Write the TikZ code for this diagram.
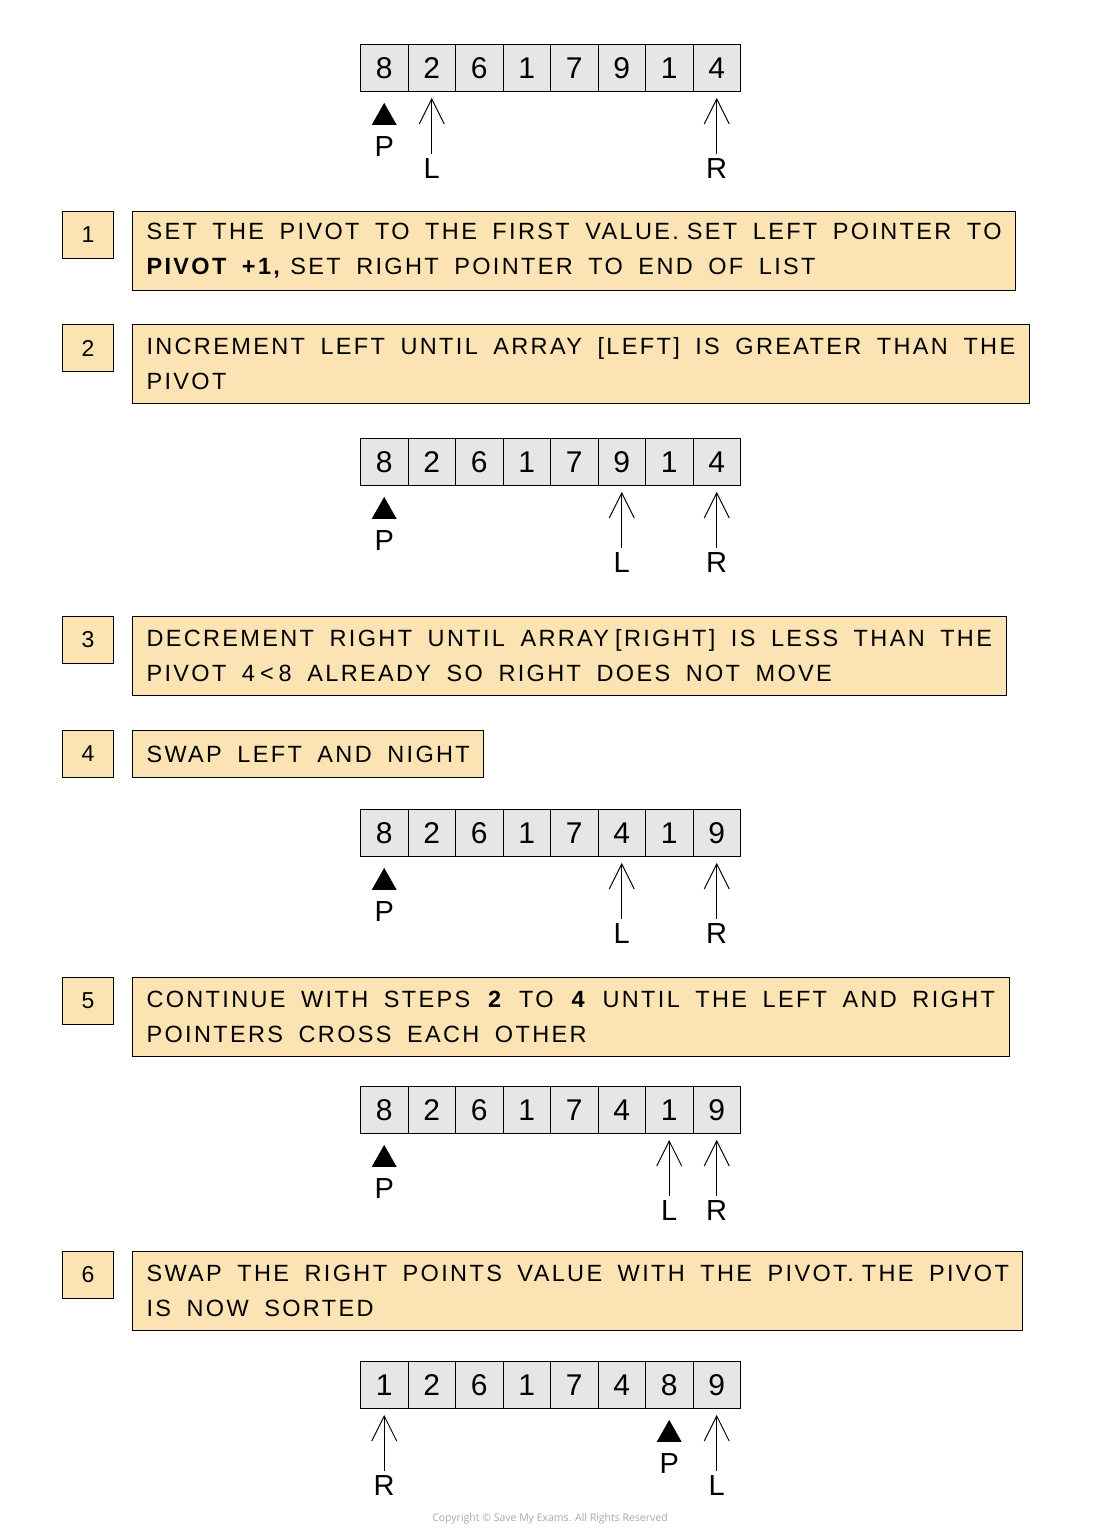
\documentclass[tikz,border=0pt]{standalone}
\usepackage{fontspec}
\setmainfont{Liberation Sans}
\newfontfamily\hand[LetterSpace=10,WordSpace=1.75]{Liberation Sans}
\newfontfamily\copyfont{Open Sans}
\usetikzlibrary{arrows.meta,calc}
\definecolor{boxfill}{HTML}{FBE3B4}
\definecolor{cellfill}{HTML}{E6E6E6}
\definecolor{copygray}{HTML}{A8A8A8}
\tikzset{
 cell/.style={draw, line width=0.9pt, fill=cellfill, minimum width=47.5pt, minimum height=47pt, inner sep=0pt, anchor=north west, font=\fontsize{30}{30}\selectfont},
 numbox/.style={draw, line width=1pt, fill=boxfill, minimum width=51pt, minimum height=47pt, inner sep=0pt, anchor=north west, font=\fontsize{23}{23}\selectfont},
 txtbox/.style={draw, line width=1pt, fill=boxfill, inner xsep=14pt, inner ysep=0pt, minimum height=79pt, anchor=north west, align=left, font=\hand\fontsize{23.5}{35}\selectfont},
 ptr/.style={line width=1pt, -{Straight Barb[length=25pt,width=25pt]}},
 lab/.style={font=\fontsize{29}{29}\selectfont, inner sep=0pt},
}
\newcommand\myarr[3]{%
  \foreach \v [count=\i from 0] in {#3} {
    \node[cell] (#1c\i) at ({360+47.5*\i},#2) {\v};
  }}
\newcommand\myptr[3]{% label name, cell node, label text
  \node[lab] (#1) at ($(#2.south)+(0,77)$) {#3};
  \draw[ptr] ([yshift=4.5pt]#1.north) -- ([yshift=-6pt]#2.south);}
\newcommand\mypiv[2]{% label name, cell node
  \fill ($(#2.south)+(0,11)$) -- ++(12.5,22) -- ++(-25,0) -- cycle;
  \node[lab] (#1) at ($(#2.south)+(0,55)$) {P};}
\newcommand\gap[1]{\kern#1pt\relax}
\begin{document}
\begin{tikzpicture}[x=1pt,y=-1pt]
\fill[white] (0,0) rectangle (1100,1540);
\useasboundingbox (0,0) rectangle (1100,1540);

% array 1
\myarr{A}{44}{8,2,6,1,7,9,1,4}
\mypiv{AP}{Ac0}
\myptr{AL}{Ac1}{L}
\myptr{AR}{Ac7}{R}

% step 1
\node[numbox] (n1) at (62,211) {1};
\node[txtbox] (t1) at (132,211) {SET THE PIVOT TO THE FIRST VALUE.\gap{8}SET LEFT POINTER TO\\\textbf{PIVOT +1,}\gap{8}SET RIGHT POINTER TO END OF LIST};

% step 2
\node[numbox] (n2) at (62,324) {2};
\node[txtbox] (t2) at (132,324) {INCREMENT LEFT UNTIL ARRAY [LEFT] IS GREATER THAN THE\\PIVOT};

% array 2
\myarr{B}{438}{8,2,6,1,7,9,1,4}
\mypiv{BP}{Bc0}
\myptr{BL}{Bc5}{L}
\myptr{BR}{Bc7}{R}

% step 3
\node[numbox] (n3) at (62,616) {3};
\node[txtbox] (t3) at (132,616) {DECREMENT RIGHT UNTIL ARRAY\gap{6}[RIGHT] IS LESS THAN THE\\PIVOT 4\gap{5}<\gap{5}8 ALREADY SO RIGHT DOES NOT MOVE};

% step 4
\node[numbox] (n4) at (62,730) {4};
\node[txtbox, minimum height=47pt] (t4) at (132,730) {SWAP LEFT AND NIGHT};

% array 3
\myarr{C}{809}{8,2,6,1,7,4,1,9}
\mypiv{CP}{Cc0}
\myptr{CL}{Cc5}{L}
\myptr{CR}{Cc7}{R}

% step 5
\node[numbox] (n5) at (62,977) {5};
\node[txtbox] (t5) at (132,977) {CONTINUE WITH STEPS \textbf{2} TO \textbf{4} UNTIL THE LEFT AND RIGHT\\POINTERS CROSS EACH OTHER};

% array 4
\myarr{D}{1086}{8,2,6,1,7,4,1,9}
\mypiv{DP}{Dc0}
\myptr{DL}{Dc6}{L}
\myptr{DR}{Dc7}{R}

% step 6
\node[numbox] (n6) at (62,1251) {6};
\node[txtbox] (t6) at (132,1251) {SWAP THE RIGHT POINTS VALUE WITH THE PIVOT.\gap{8}THE PIVOT\\IS NOW SORTED};

% array 5
\myarr{E}{1361}{1,2,6,1,7,4,8,9}
\myptr{ER}{Ec0}{R}
\mypiv{EP}{Ec6}
\myptr{EL}{Ec7}{L}

\node[font=\copyfont\fontsize{10.5}{12}\selectfont, text=copygray] (copy) at (550,1519) {Copyright © Save My Exams. All Rights Reserved};
\end{tikzpicture}
\end{document}
